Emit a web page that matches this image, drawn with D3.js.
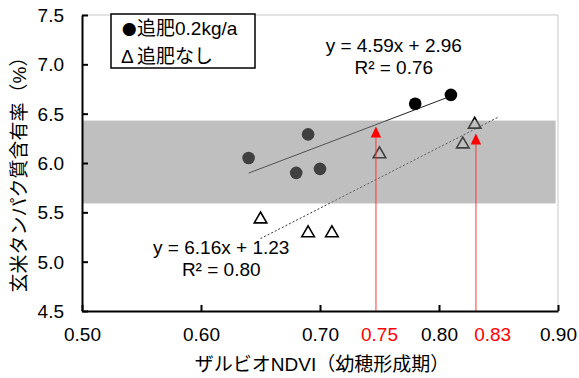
<!DOCTYPE html>
<html><head><meta charset="utf-8">
<script src="https://cdn.jsdelivr.net/npm/d3@7"></script>
<style>
html,body{margin:0;padding:0;background:#fff;}
svg{display:block;}
text{font-family:"Liberation Sans","Arial","Noto Sans CJK JP",sans-serif;}
</style></head>
<body>
<svg id="c" width="579" height="378"></svg>
<script>
// ---- data ----
const fedX = [0.64, 0.68, 0.69, 0.70, 0.78, 0.81];
const fedY = [6.05, 5.90, 6.29, 5.94, 6.60, 6.69];
const noneX = [0.65, 0.69, 0.71, 0.75, 0.82, 0.83];
const noneY = [5.44, 5.30, 5.30, 6.10, 6.20, 6.40];
const fit1 = {slope: 4.59, intercept: 2.96, from: 0.64, to: 0.81};
const fit2 = {slope: 6.16, intercept: 1.23, from: 0.65, to: 0.85};
const bandRange = [5.59, 6.43];
const bandX = [0.50, 0.898];
const arrowX = [0.747, 0.831];
const arrowTop = [6.37, 6.30];
const xTicks = [0.50, 0.60, 0.70, 0.80, 0.90];
const yTicks = [4.5, 5.0, 5.5, 6.0, 6.5, 7.0, 7.5];
const redTickLabels = ["0.75", "0.83"];
const legendSymbols = ["●", "Δ"];
const legendLabels = ["追肥0.2kg/a", "追肥なし"];
const eq1 = ["y = 4.59x + 2.96", "R² = 0.76"];
const eq2 = ["y = 6.16x + 1.23", "R² = 0.80"];
const xTitle = "ザルビオNDVI（幼穂形成期）";
const yTitle = "玄米タンパク質含有率（%）";

const svg = d3.select("#c");
const L = 82, R = 558, T = 15, B = 311;
const x = d3.scaleLinear().domain([0.5, 0.9]).range([L, R]);
const y = d3.scaleLinear().domain([4.5, 7.5]).range([B, T]);
const FS = 19;

// plot border (top/right light gray)
svg.append("path").attr("d", `M${L},${T}H${R}V${B}`).attr("fill","none").attr("stroke","#c8c8c8").attr("stroke-width",1);

// trend lines
const line = d3.line().x(d=>x(d[0])).y(d=>y(d[1]));
[fit1, fit2].forEach((f,i)=>{
  svg.append("path")
    .attr("d", line([[f.from, f.slope*f.from+f.intercept],[f.to, f.slope*f.to+f.intercept]]))
    .attr("stroke", i===0 ? "#222" : "#333")
    .attr("stroke-width", 1)
    .attr("stroke-dasharray", i===0 ? null : "2,2")
    .attr("fill","none");
});

// markers
svg.selectAll("circle.fed").data(fedX.map((v,i)=>[v,fedY[i]])).enter().append("circle")
  .attr("cx", d=>x(d[0])).attr("cy", d=>y(d[1])).attr("r", 6.3).attr("fill", "#000");
const tri = d3.symbol().type(d3.symbolTriangle).size(68);
svg.selectAll("path.none").data(noneX.map((v,i)=>[v,noneY[i]])).enter().append("path")
  .attr("d", tri).attr("transform", d=>`translate(${x(d[0])},${y(d[1])+1})`)
  .attr("fill","none").attr("stroke","#000").attr("stroke-width",1.6);

// gray band (semi-transparent overlay)
svg.append("rect")
  .attr("x", x(bandX[0])).attr("width", x(bandX[1]) - x(bandX[0]))
  .attr("y", y(bandRange[1])).attr("height", y(bandRange[0]) - y(bandRange[1]))
  .attr("fill", "#808080").attr("fill-opacity", 0.5);

// red arrows
arrowX.forEach((v,i)=>{
  const px = x(v), tip = y(arrowTop[i]);
  svg.append("line").attr("x1", px).attr("x2", px).attr("y1", y(4.5)).attr("y2", tip + 8)
    .attr("stroke", "#ff3030").attr("stroke-opacity", 0.6).attr("stroke-width", 1.6);
  svg.append("path").attr("d", `M${px},${tip}L${px-5.2},${tip+11}L${px+5.2},${tip+11}Z`).attr("fill", "#ff0000");
});

// axes
const xAxis = d3.axisBottom(x).tickValues(xTicks).tickSizeInner(-6).tickSizeOuter(0).tickFormat(d3.format(".2f")).tickPadding(12);
const yAxis = d3.axisLeft(y).tickValues(yTicks).tickSizeInner(-6).tickSizeOuter(0).tickFormat(d3.format(".1f")).tickPadding(18);
const gx = svg.append("g").attr("transform", `translate(0,${B})`).call(xAxis);
const gy = svg.append("g").attr("transform", `translate(${L},0)`).call(yAxis);
[gx, gy].forEach(g=>{
  g.select(".domain").attr("stroke","#000").attr("stroke-width",2);
  g.selectAll(".tick line").attr("stroke","#000").attr("stroke-width",2);
  g.selectAll(".tick text").attr("fill","#000").style("font-size", FS+"px").style("font-family", '"Liberation Sans",Arial,sans-serif');
});
gx.selectAll(".tick text").attr("dy", null).attr("y", 0).attr("transform", "translate(0,30)");
gy.selectAll(".tick text").attr("dy", "0.35em");

// red tick labels
const redLabelPos = [x(0.75), x(0.83) + 18];
redTickLabels.forEach((t,i)=>{
  svg.append("text").attr("x", redLabelPos[i]).attr("y", 341).attr("text-anchor","middle")
    .attr("fill","#ff0000").style("font-size", FS+"px").text(t);
});

// axis titles
svg.append("text").attr("x", (L+R)/2 + 2).attr("y", 371).attr("text-anchor","middle")
  .style("font-size", FS+"px").attr("fill","#000").text(xTitle);
svg.append("text").attr("transform", "translate(26,170) rotate(-90)").attr("text-anchor","middle")
  .style("font-size", FS+"px").attr("fill","#000").text(yTitle);

// equations
function eq(lines, cx, by){
  lines.forEach((t,i)=>{
    svg.append("text").attr("x", cx).attr("y", by + i*22).attr("text-anchor","middle")
      .style("font-size", FS+"px").attr("fill","#000").text(t);
  });
}
eq(eq1, x(0.762), y(7.125));
eq(eq2, x(0.617), y(5.08));

// legend
svg.append("rect").attr("x", 111).attr("y", 14).attr("width", 144).attr("height", 54)
  .attr("fill","#fff").attr("stroke","#000").attr("stroke-width",1.5);
legendLabels.forEach((t,i)=>{
  const tx = svg.append("text").attr("y", 35 + i*28).style("font-size", FS+"px").attr("fill","#000");
  tx.append("tspan").attr("x", i===0 ? 122 : 121).style("font-family", i===0 ? '"Noto Sans CJK JP",sans-serif' : '"Liberation Sans",Arial,sans-serif')
    .style("font-size", i===0 ? "14.5px" : "19px").text(legendSymbols[i]);
  tx.append("tspan").attr("x", 137).text(t);
});
</script>
</body></html>
